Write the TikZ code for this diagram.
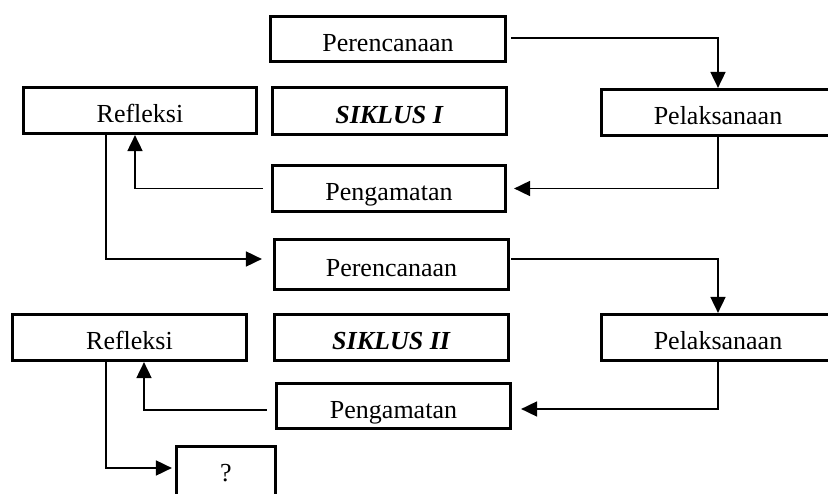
\documentclass[tikz,border=0pt]{standalone}
\usepackage{fontspec}
\setmainfont{Liberation Serif}
\usetikzlibrary{arrows.meta,calc}
\begin{document}
\begin{tikzpicture}[x=1pt,y=-1pt,
  box/.style={draw, line width=3.2pt, inner sep=0pt, text height=25pt, text depth=0pt,
    font=\fontsize{26}{30}\selectfont},
  conn/.style={line width=1.8pt, -{Triangle[length=16pt,width=15pt]}}]
\useasboundingbox (0,0) rectangle (828,494);
\clip (0,0) rectangle (828,494);
\node[box, minimum width=235, minimum height=45] (P1) at (388,39) {Perencanaan};
\node[box, minimum width=233, minimum height=46] (R1) at (140,110.5) {Refleksi};
\node[box, minimum width=234, minimum height=47] (S1) at (389.5,111) {\textbf{\textit{SIKLUS I}}};
\node[box, minimum width=233, minimum height=46] (G1) at (389,188.5) {Pengamatan};
\node[box, minimum width=233, minimum height=46] (L1) at (718,112.5) {Pelaksanaan};
\node[box, minimum width=234, minimum height=50] (P2) at (391.5,264.5) {Perencanaan};
\node[box, minimum width=234, minimum height=46] (R2) at (129.5,337.5) {Refleksi};
\node[box, minimum width=234, minimum height=46] (S2) at (391.5,337.5) {\textbf{\textit{SIKLUS II}}};
\node[box, minimum width=234, minimum height=45] (G2) at (393.5,406) {Pengamatan};
\node[box, minimum width=233, minimum height=46] (L2) at (718,337.5) {Pelaksanaan};
\node[box, minimum width=99, minimum height=67, text height=14pt, text depth=10pt] (Q) at (226,480) {?};
% cycle I
\draw[conn] ($(P1.east)+(4,-1)$) -| (L1.north);
\draw[conn] (L1.south) |- ($(G1.east)+(7,0)$);
\draw[conn] ($(G1.west)+(-8,0)$) -| ($(R1.south)+(-5,0)$);
\draw[conn] ($(R1.south)+(-34,0)$) |- ($(P2.west)+(-11,-5.5)$);
% cycle II
\draw[conn] ($(P2.east)+(1,-5.5)$) -| (L2.north);
\draw[conn] (L2.south) |- ($(G2.east)+(9,3)$);
\draw[conn] ($(G2.west)+(-8,4)$) -| ($(R2.south)+(14.5,0)$);
\draw[conn] ($(R2.south)+(-23.5,0)$) |- ($(Q.west)+(-3,-12)$);
\end{tikzpicture}
\end{document}
